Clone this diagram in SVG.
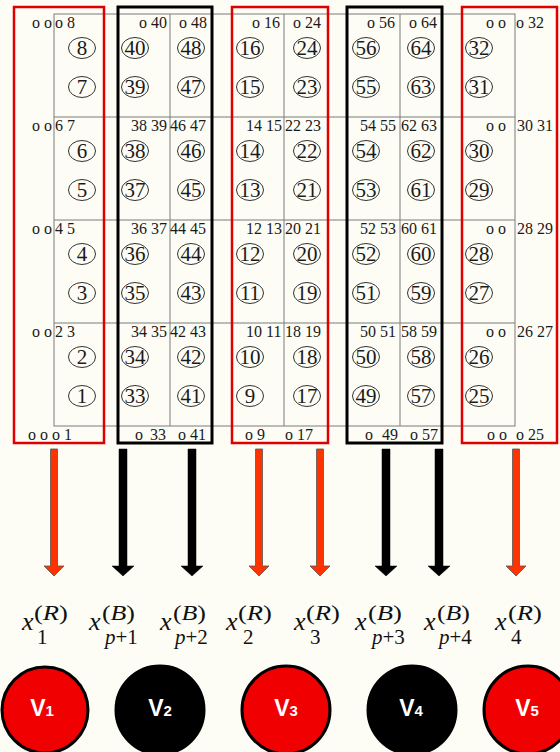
<svg xmlns="http://www.w3.org/2000/svg" width="560" height="752" viewBox="0 0 560 752">
<style>
.g{stroke:#7a7a7a;stroke-width:1;fill:none}
.rb{stroke:#e00000;stroke-width:2.5;fill:none}
.bb{stroke:#000;stroke-width:3;fill:none}
.t{font-family:"Liberation Serif",serif;font-size:16px;fill:#1a1a1a}
.c{font-family:"Liberation Serif",serif;font-size:21px;fill:#1a1a1a;text-anchor:middle}
.ce{fill:none;stroke:#333;stroke-width:1}
.ra{fill:#ff3300;stroke:#555;stroke-width:0.8}
.ka{fill:#000;stroke:#000;stroke-width:0.5}
.mx{font-family:"Liberation Serif",serif;font-size:26px;font-style:italic;fill:#111}
.ms{font-family:"Liberation Serif",serif;font-size:21px;fill:#111}
.vr{fill:#f00000;stroke:#000;stroke-width:3}
.vk{fill:#000;stroke:#000;stroke-width:3}
.vl{font-family:"Liberation Sans",Arial,sans-serif;font-weight:bold;font-size:23px;fill:#fff}
.vs{font-size:15px}
</style>
<rect width="560" height="752" fill="#fdfdf6"/>
<g id="grid">
<rect class="g" x="54" y="14" width="461" height="412"/>
<path class="g" d="M118 14V426M170 14V426M232 14V426M284 14V426M347 14V426M400 14V426M462 14V426M54 117H515M54 220H515M54 323H515"/>
</g>
<g id="labels">
<text class="t" x="32" y="28">o o</text><text class="t" x="55" y="28">o 8</text>
<text class="t" x="167" y="28" text-anchor="end">o 40</text><text class="t" x="179" y="28">o 48</text>
<text class="t" x="252" y="28">o 16</text><text class="t" x="293" y="28">o 24</text>
<text class="t" x="367" y="28">o 56</text><text class="t" x="409" y="28">o 64</text>
<text class="t" x="486" y="28">o o</text><text class="t" x="516" y="28">o 32</text>

<text class="t" x="32" y="131">o o</text><text class="t" x="55" y="131">6 7</text>
<text class="t" x="167" y="131" text-anchor="end">38 39</text><text class="t" x="170" y="131">46 47</text>
<text class="t" x="246" y="131">14 15</text><text class="t" x="285" y="131">22 23</text>
<text class="t" x="360" y="131">54 55</text><text class="t" x="401" y="131">62 63</text>
<text class="t" x="486" y="131">o o</text><text class="t" x="517" y="131">30 31</text>

<text class="t" x="32" y="234">o o</text><text class="t" x="55" y="234">4 5</text>
<text class="t" x="167" y="234" text-anchor="end">36 37</text><text class="t" x="170" y="234">44 45</text>
<text class="t" x="246" y="234">12 13</text><text class="t" x="285" y="234">20 21</text>
<text class="t" x="360" y="234">52 53</text><text class="t" x="401" y="234">60 61</text>
<text class="t" x="486" y="234">o o</text><text class="t" x="517" y="234">28 29</text>

<text class="t" x="32" y="337">o o</text><text class="t" x="55" y="337">2 3</text>
<text class="t" x="167" y="337" text-anchor="end">34 35</text><text class="t" x="170" y="337">42 43</text>
<text class="t" x="246" y="337">10 11</text><text class="t" x="285" y="337">18 19</text>
<text class="t" x="360" y="337">50 51</text><text class="t" x="401" y="337">58 59</text>
<text class="t" x="486" y="337">o o</text><text class="t" x="517" y="337">26 27</text>

<text class="t" x="28" y="440">o o o 1</text>
<text class="t" x="135" y="440">o</text><text class="t" x="150" y="440">33</text><text class="t" x="178" y="440">o 41</text>
<text class="t" x="245" y="440">o 9</text><text class="t" x="285" y="440">o 17</text>
<text class="t" x="365" y="440">o</text><text class="t" x="382" y="440">49</text><text class="t" x="410" y="440">o 57</text>
<text class="t" x="487" y="440">o o</text><text class="t" x="516" y="440">o 25</text>
</g>
<g id="cells">
<g id="col1">
<ellipse class="ce" cx="82" cy="48" rx="13.5" ry="10.5"/><text class="c" x="82" y="55">8</text>
<ellipse class="ce" cx="82" cy="87" rx="13.5" ry="10.5"/><text class="c" x="82" y="94">7</text>
<ellipse class="ce" cx="82" cy="151" rx="13.5" ry="10.5"/><text class="c" x="82" y="158">6</text>
<ellipse class="ce" cx="82" cy="190" rx="13.5" ry="10.5"/><text class="c" x="82" y="197">5</text>
<ellipse class="ce" cx="82" cy="254" rx="13.5" ry="10.5"/><text class="c" x="82" y="261">4</text>
<ellipse class="ce" cx="82" cy="293" rx="13.5" ry="10.5"/><text class="c" x="82" y="300">3</text>
<ellipse class="ce" cx="82" cy="357" rx="13.5" ry="10.5"/><text class="c" x="82" y="364">2</text>
<ellipse class="ce" cx="82" cy="396" rx="13.5" ry="10.5"/><text class="c" x="82" y="403">1</text>
</g>
<g id="col2">
<ellipse class="ce" cx="135" cy="48" rx="13.5" ry="10.5"/><text class="c" x="135" y="55">40</text>
<ellipse class="ce" cx="135" cy="87" rx="13.5" ry="10.5"/><text class="c" x="135" y="94">39</text>
<ellipse class="ce" cx="135" cy="151" rx="13.5" ry="10.5"/><text class="c" x="135" y="158">38</text>
<ellipse class="ce" cx="135" cy="190" rx="13.5" ry="10.5"/><text class="c" x="135" y="197">37</text>
<ellipse class="ce" cx="135" cy="254" rx="13.5" ry="10.5"/><text class="c" x="135" y="261">36</text>
<ellipse class="ce" cx="135" cy="293" rx="13.5" ry="10.5"/><text class="c" x="135" y="300">35</text>
<ellipse class="ce" cx="135" cy="357" rx="13.5" ry="10.5"/><text class="c" x="135" y="364">34</text>
<ellipse class="ce" cx="135" cy="396" rx="13.5" ry="10.5"/><text class="c" x="135" y="403">33</text>
</g>
<g id="col3">
<ellipse class="ce" cx="191" cy="48" rx="13.5" ry="10.5"/><text class="c" x="191" y="55">48</text>
<ellipse class="ce" cx="191" cy="87" rx="13.5" ry="10.5"/><text class="c" x="191" y="94">47</text>
<ellipse class="ce" cx="191" cy="151" rx="13.5" ry="10.5"/><text class="c" x="191" y="158">46</text>
<ellipse class="ce" cx="191" cy="190" rx="13.5" ry="10.5"/><text class="c" x="191" y="197">45</text>
<ellipse class="ce" cx="191" cy="254" rx="13.5" ry="10.5"/><text class="c" x="191" y="261">44</text>
<ellipse class="ce" cx="191" cy="293" rx="13.5" ry="10.5"/><text class="c" x="191" y="300">43</text>
<ellipse class="ce" cx="191" cy="357" rx="13.5" ry="10.5"/><text class="c" x="191" y="364">42</text>
<ellipse class="ce" cx="191" cy="396" rx="13.5" ry="10.5"/><text class="c" x="191" y="403">41</text>
</g>
<g id="col4">
<ellipse class="ce" cx="250" cy="48" rx="13.5" ry="10.5"/><text class="c" x="250" y="55">16</text>
<ellipse class="ce" cx="250" cy="87" rx="13.5" ry="10.5"/><text class="c" x="250" y="94">15</text>
<ellipse class="ce" cx="250" cy="151" rx="13.5" ry="10.5"/><text class="c" x="250" y="158">14</text>
<ellipse class="ce" cx="250" cy="190" rx="13.5" ry="10.5"/><text class="c" x="250" y="197">13</text>
<ellipse class="ce" cx="250" cy="254" rx="13.5" ry="10.5"/><text class="c" x="250" y="261">12</text>
<ellipse class="ce" cx="250" cy="293" rx="13.5" ry="10.5"/><text class="c" x="250" y="300">11</text>
<ellipse class="ce" cx="250" cy="357" rx="13.5" ry="10.5"/><text class="c" x="250" y="364">10</text>
<ellipse class="ce" cx="250" cy="396" rx="13.5" ry="10.5"/><text class="c" x="250" y="403">9</text>
</g>
<g id="col5">
<ellipse class="ce" cx="307" cy="48" rx="13.5" ry="10.5"/><text class="c" x="307" y="55">24</text>
<ellipse class="ce" cx="307" cy="87" rx="13.5" ry="10.5"/><text class="c" x="307" y="94">23</text>
<ellipse class="ce" cx="307" cy="151" rx="13.5" ry="10.5"/><text class="c" x="307" y="158">22</text>
<ellipse class="ce" cx="307" cy="190" rx="13.5" ry="10.5"/><text class="c" x="307" y="197">21</text>
<ellipse class="ce" cx="307" cy="254" rx="13.5" ry="10.5"/><text class="c" x="307" y="261">20</text>
<ellipse class="ce" cx="307" cy="293" rx="13.5" ry="10.5"/><text class="c" x="307" y="300">19</text>
<ellipse class="ce" cx="307" cy="357" rx="13.5" ry="10.5"/><text class="c" x="307" y="364">18</text>
<ellipse class="ce" cx="307" cy="396" rx="13.5" ry="10.5"/><text class="c" x="307" y="403">17</text>
</g>
<g id="col6">
<ellipse class="ce" cx="366" cy="48" rx="13.5" ry="10.5"/><text class="c" x="366" y="55">56</text>
<ellipse class="ce" cx="366" cy="87" rx="13.5" ry="10.5"/><text class="c" x="366" y="94">55</text>
<ellipse class="ce" cx="366" cy="151" rx="13.5" ry="10.5"/><text class="c" x="366" y="158">54</text>
<ellipse class="ce" cx="366" cy="190" rx="13.5" ry="10.5"/><text class="c" x="366" y="197">53</text>
<ellipse class="ce" cx="366" cy="254" rx="13.5" ry="10.5"/><text class="c" x="366" y="261">52</text>
<ellipse class="ce" cx="366" cy="293" rx="13.5" ry="10.5"/><text class="c" x="366" y="300">51</text>
<ellipse class="ce" cx="366" cy="357" rx="13.5" ry="10.5"/><text class="c" x="366" y="364">50</text>
<ellipse class="ce" cx="366" cy="396" rx="13.5" ry="10.5"/><text class="c" x="366" y="403">49</text>
</g>
<g id="col7">
<ellipse class="ce" cx="421" cy="48" rx="13.5" ry="10.5"/><text class="c" x="421" y="55">64</text>
<ellipse class="ce" cx="421" cy="87" rx="13.5" ry="10.5"/><text class="c" x="421" y="94">63</text>
<ellipse class="ce" cx="421" cy="151" rx="13.5" ry="10.5"/><text class="c" x="421" y="158">62</text>
<ellipse class="ce" cx="421" cy="190" rx="13.5" ry="10.5"/><text class="c" x="421" y="197">61</text>
<ellipse class="ce" cx="421" cy="254" rx="13.5" ry="10.5"/><text class="c" x="421" y="261">60</text>
<ellipse class="ce" cx="421" cy="293" rx="13.5" ry="10.5"/><text class="c" x="421" y="300">59</text>
<ellipse class="ce" cx="421" cy="357" rx="13.5" ry="10.5"/><text class="c" x="421" y="364">58</text>
<ellipse class="ce" cx="421" cy="396" rx="13.5" ry="10.5"/><text class="c" x="421" y="403">57</text>
</g>
<g id="col8">
<ellipse class="ce" cx="479" cy="48" rx="13.5" ry="10.5"/><text class="c" x="479" y="55">32</text>
<ellipse class="ce" cx="479" cy="87" rx="13.5" ry="10.5"/><text class="c" x="479" y="94">31</text>
<ellipse class="ce" cx="479" cy="151" rx="13.5" ry="10.5"/><text class="c" x="479" y="158">30</text>
<ellipse class="ce" cx="479" cy="190" rx="13.5" ry="10.5"/><text class="c" x="479" y="197">29</text>
<ellipse class="ce" cx="479" cy="254" rx="13.5" ry="10.5"/><text class="c" x="479" y="261">28</text>
<ellipse class="ce" cx="479" cy="293" rx="13.5" ry="10.5"/><text class="c" x="479" y="300">27</text>
<ellipse class="ce" cx="479" cy="357" rx="13.5" ry="10.5"/><text class="c" x="479" y="364">26</text>
<ellipse class="ce" cx="479" cy="396" rx="13.5" ry="10.5"/><text class="c" x="479" y="403">25</text>
</g>
</g>
<g id="box1"><rect class="rb" x="14" y="7" width="90" height="436"/></g>
<g id="box2"><rect class="bb" x="118" y="7" width="94" height="436"/></g>
<g id="box3"><rect class="rb" x="232" y="7" width="96" height="436"/></g>
<g id="box4"><rect class="bb" x="347" y="7" width="95" height="436"/></g>
<g id="box5"><rect class="rb" x="462" y="7" width="95" height="436"/></g>
<g id="connectors">
<path class="ra" d="M50.5 449H57.5V566H64L54 576L44 566H50.5Z"/>
<path class="ka" d="M119 449H127V566H134L123 576L112 566H119Z"/>
<path class="ka" d="M188 449H196V566H203L192 576L181 566H188Z"/>
<path class="ra" d="M255.5 449H262.5V566H269L259 576L249 566H255.5Z"/>
<path class="ra" d="M316.5 449H323.5V566H330L320 576L310 566H316.5Z"/>
<path class="ka" d="M382 449H390V566H397L386 576L375 566H382Z"/>
<path class="ka" d="M435 449H443V566H450L439 576L428 566H435Z"/>
<path class="ra" d="M512.5 449H519.5V566H526L516 576L506 566H512.5Z"/>
</g>
<g id="math">
<text class="mx" x="22" y="630">x</text><text class="ms" x="34" y="620" textLength="34" lengthAdjust="spacingAndGlyphs">(<tspan font-style="italic">R</tspan>)</text><text class="ms" x="37" y="644">1</text>
<text class="mx" x="89" y="630">x</text><text class="ms" x="102" y="620" textLength="33" lengthAdjust="spacingAndGlyphs">(<tspan font-style="italic">B</tspan>)</text><text class="ms" x="105" y="644"><tspan font-style="italic">p</tspan>+1</text>
<text class="mx" x="160" y="630">x</text><text class="ms" x="173" y="620" textLength="33" lengthAdjust="spacingAndGlyphs">(<tspan font-style="italic">B</tspan>)</text><text class="ms" x="175" y="644"><tspan font-style="italic">p</tspan>+2</text>
<text class="mx" x="226" y="630">x</text><text class="ms" x="238" y="620" textLength="34" lengthAdjust="spacingAndGlyphs">(<tspan font-style="italic">R</tspan>)</text><text class="ms" x="243" y="644">2</text>
<text class="mx" x="294" y="630">x</text><text class="ms" x="306" y="620" textLength="34" lengthAdjust="spacingAndGlyphs">(<tspan font-style="italic">R</tspan>)</text><text class="ms" x="310" y="644">3</text>
<text class="mx" x="355" y="630">x</text><text class="ms" x="368" y="620" textLength="34" lengthAdjust="spacingAndGlyphs">(<tspan font-style="italic">B</tspan>)</text><text class="ms" x="372" y="644"><tspan font-style="italic">p</tspan>+3</text>
<text class="mx" x="424" y="630">x</text><text class="ms" x="437" y="620" textLength="33" lengthAdjust="spacingAndGlyphs">(<tspan font-style="italic">B</tspan>)</text><text class="ms" x="439" y="644"><tspan font-style="italic">p</tspan>+4</text>
<text class="mx" x="495" y="630">x</text><text class="ms" x="508" y="620" textLength="34" lengthAdjust="spacingAndGlyphs">(<tspan font-style="italic">R</tspan>)</text><text class="ms" x="511" y="644">4</text>
</g>
<g id="v1"><circle class="vr" cx="45" cy="710" r="43"/><text class="vl" x="42" y="716" text-anchor="middle">V<tspan class="vs">1</tspan></text></g>
<g id="v2"><circle class="vk" cx="160" cy="710" r="44"/><text class="vl" x="160" y="716" text-anchor="middle">V<tspan class="vs">2</tspan></text></g>
<g id="v3"><circle class="vr" cx="286" cy="710" r="44"/><text class="vl" x="286" y="716" text-anchor="middle">V<tspan class="vs">3</tspan></text></g>
<g id="v4"><circle class="vk" cx="412" cy="710" r="44"/><text class="vl" x="411" y="716" text-anchor="middle">V<tspan class="vs">4</tspan></text></g>
<g id="v5"><circle class="vr" cx="528" cy="710" r="44"/><text class="vl" x="527" y="716" text-anchor="middle">V<tspan class="vs">5</tspan></text></g>
</svg>
